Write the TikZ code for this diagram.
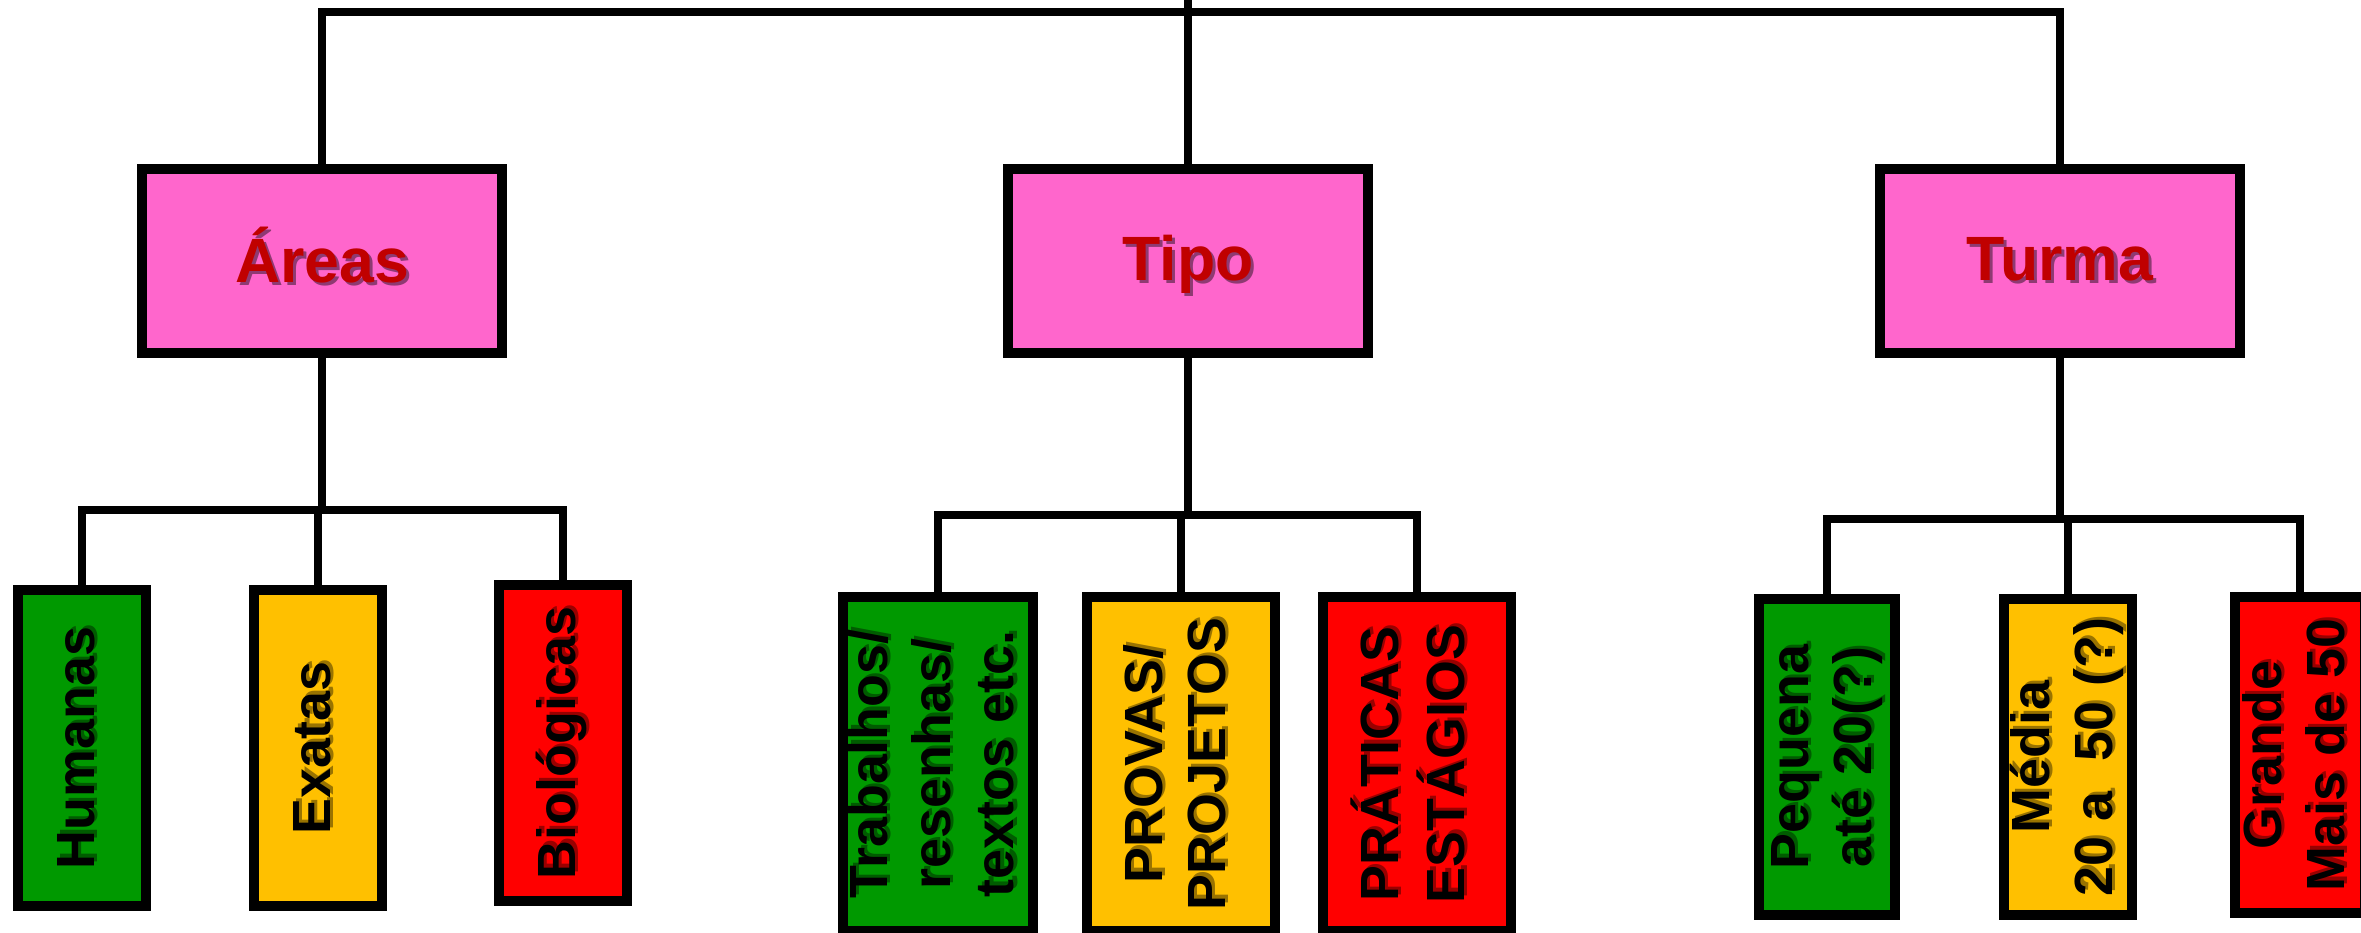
\documentclass[tikz,border=0pt]{standalone}
\usepackage{fontspec}
\setmainfont{Liberation Sans}
\usepackage{graphicx}
\definecolor{pinkbox}{HTML}{FF66CC}
\definecolor{titlered}{HTML}{C00000}
\definecolor{topshadow}{HTML}{8E3A72}
\definecolor{grn}{HTML}{009900}
\definecolor{ylw}{HTML}{FFC000}
\definecolor{rd}{HTML}{FF0000}
\newcommand\shadtxt[2]{\leavevmode\rlap{\kern0.9pt\raisebox{-0.9pt}[0pt][0pt]{\color{#1}\begin{tabular}{@{}c@{}}#2\end{tabular}}}\begin{tabular}{@{}c@{}}#2\end{tabular}}
\newcommand\lowered[1]{\raisebox{-0.05cm}[\height][\depth]{#1}}
\begin{document}
\begin{tikzpicture}[x=0.01cm,y=-0.01cm,
  conn/.style={line width=0.08cm, line cap=rect, draw=black},
  topbox/.style={draw=black, line width=0.1cm, fill=pinkbox, minimum width=3.6cm, minimum height=1.84cm, inner sep=0pt, font=\fontsize{17.8}{21}\selectfont\bfseries, text=titlered},
  lowbox/.style={draw=black, line width=0.1cm, inner sep=0pt, minimum height=3.15cm, font=\fontsize{15.3}{18}\selectfont\bfseries, text=black},
  tallbox/.style={lowbox, minimum height=3.34cm}]
\path[use as bounding box, clip] (0,0) rectangle (2361,932);
\fill[white] (0,0) rectangle (2361,932);
% top level
\node[topbox] (areas) at (322,261) {\lowered{\shadtxt{topshadow}{Áreas}}};
\node[topbox] (tipo) at (1188,261) {\lowered{\shadtxt{topshadow}{Tipo}}};
\node[topbox] (turma) at (2060,261) {\lowered{\shadtxt{topshadow}{Turma}}};
% Areas children
\node[lowbox, fill=grn, minimum width=1.27cm] (hum) at (82,748) {\rotatebox{90}{\shadtxt{black!40!grn}{Humanas}}};
\node[lowbox, fill=ylw, minimum width=1.27cm] (exa) at (318,748) {\rotatebox{90}{\shadtxt{black!40!ylw}{Exatas}}};
\node[lowbox, fill=rd, minimum width=1.27cm] (bio) at (563,743) {\rotatebox{90}{\shadtxt{black!40!rd}{Biológicas}}};
% Tipo children
\node[tallbox, fill=grn, minimum width=1.87cm] (trab) at (938,764) {\rotatebox{90}{\shadtxt{black!40!grn}{Trabalhos/\\resenhas/\\textos etc.}}};
\node[tallbox, fill=ylw, minimum width=1.87cm] (prov) at (1181,764) {\rotatebox{90}{\shadtxt{black!40!ylw}{PROVAS/\\PROJETOS}}};
\node[tallbox, fill=rd, minimum width=1.87cm] (prat) at (1417,764) {\rotatebox{90}{\shadtxt{black!40!rd}{PRÁTICAS\\ESTÁGIOS}}};
% Turma children
\node[lowbox, fill=grn, minimum width=1.36cm] (peq) at (1827,757) {\rotatebox{90}{\shadtxt{black!40!grn}{Pequena\\até 20(?)}}};
\node[lowbox, fill=ylw, minimum width=1.27cm] (med) at (2068,757) {\rotatebox{90}{\shadtxt{black!40!ylw}{Média\\20 a~~50 (?)}}};
\node[lowbox, fill=rd, minimum width=1.3cm] (gra) at (2300,755) {\rotatebox{90}{\shadtxt{black!40!rd}{Grande\\Mais de 50}}};
% connectors, top
\coordinate (topedge) at (1192,0);
\coordinate (topbus) at (1192,12);
\draw[conn] (areas.north) |- (topbus) -| (turma.north);
\draw[conn] (tipo.north) -- (tipo.north |- topedge);
% Areas group
\coordinate (busA) at (322,510);
\draw[conn] (areas.south) -- (busA);
\draw[conn] (hum.north) |- (busA) -| (bio.north);
\draw[conn] (exa.north) -- (exa.north |- busA);
% Tipo group
\coordinate (busT) at (1188,515);
\draw[conn] (tipo.south) -- (busT);
\draw[conn] (trab.north) |- (busT) -| (prat.north);
\draw[conn] (prov.north) -- (prov.north |- busT);
% Turma group
\coordinate (busU) at (2060,519);
\draw[conn] (turma.south) -- (busU);
\draw[conn] (peq.north) |- (busU) -| (gra.north);
\draw[conn] (med.north) -- (med.north |- busU);
\end{tikzpicture}
\end{document}
